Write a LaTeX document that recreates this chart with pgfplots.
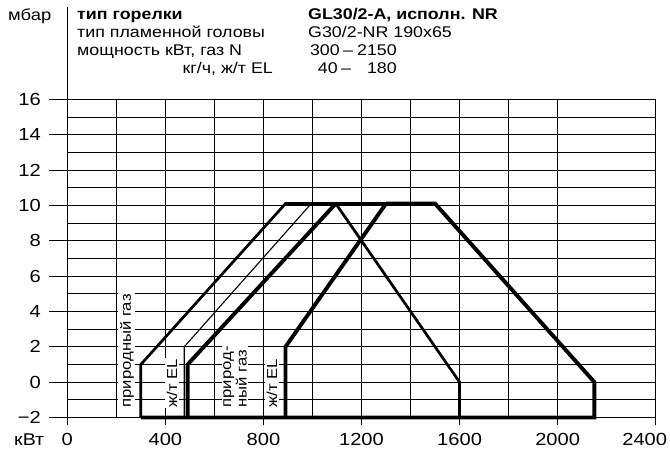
\documentclass[border=0pt]{standalone}
\usepackage{pgfplots}
\pgfplotsset{compat=1.18}
\usepackage{fontspec}
\setmainfont{Liberation Sans}[FakeStretch=1.15]
\begin{document}
\begin{tikzpicture}[x=1pt,y=1pt,
  medium/.style={black,line width=2.7pt,line join=miter},
  heavy/.style={black,line width=3.9pt,line join=miter},
  light/.style={black,line width=1.1pt,line join=miter},
  lbl/.style={rotate=90,anchor=west,fill=white,inner xsep=1pt,inner ysep=1.5pt,font=\fontsize{14.5}{15.5}\selectfont}]
\useasboundingbox (0,0) rectangle (670,458);
% header
\draw[line width=1pt] (67.3,451) -- (67.3,358.7);
\node[anchor=base west,inner sep=0pt,font=\fontsize{16}{19}\selectfont] at (8,437) {мбар};
\begin{scope}[every node/.style={anchor=base west,inner sep=0pt,font=\fontsize{15.5}{18}\selectfont}]
\node at (77,438) {\bfseries тип горелки};
\node at (308,438) {\bfseries GL30/2-A, исполн. NR};
\node at (77,420) {тип пламенной головы};
\node at (308,420) {G30/2-NR 190x65};
\node at (77,402) {мощность кВт, газ N};
\node[anchor=base east] at (273,384) {кг/ч, ж/т EL};
\node[anchor=base east] at (340,402) {300};
\node at (343,402) {–};
\node[anchor=base east] at (397,402) {2150};
\node[anchor=base east] at (338,384) {40};
\node at (341,384) {–};
\node[anchor=base east] at (397,384) {180};
\end{scope}
\node[anchor=base west,inner sep=0pt,font=\fontsize{17}{20}\selectfont] at (14,12) {кВт};
\begin{axis}[
  at={(67.3pt,40.5pt)}, anchor=south west,
  scale only axis, width=588.4pt, height=318.2pt,
  xmin=0, xmax=2400, ymin=-2, ymax=16,
  clip=false,
  axis line style={black,line width=1pt},
  xtick={0,400,800,1200,1600,2000},
  xticklabels={0,400,800,1200,1600,2000},
  extra x ticks={2400},
  extra x tick labels={2400},
  extra x tick style={grid=none, xticklabel style={xshift=-11pt}},
  minor x tick num=1,
  ytick={-2,0,2,4,6,8,10,12,14,16},
  yticklabels={−2,0,2,4,6,8,10,12,14,16},
  minor y tick num=1,
  xtick pos=bottom, ytick pos=left,
  tick align=outside,
  minor tick length=0pt,
  xtick style={black,line width=0.9pt,/pgfplots/major tick length=8pt},
  ytick style={black,line width=0.9pt,/pgfplots/major tick length=18pt},
  grid=both,
  major grid style={black,line width=0.8pt},
  minor grid style={black,line width=0.8pt},
  ticklabel style={font=\fontsize{17.5}{20}\selectfont},
  xticklabel style={inner sep=0pt, yshift=-11pt, anchor=north},
  yticklabel style={inner sep=0pt, xshift=-22pt, anchor=east},
]
\addplot[medium] coordinates {(300,-2) (300,1) (890,10.1) (1500,10.1)};
\addplot[heavy] coordinates {(1300,10.1) (1500,10.1) (2150,0) (2150,-2) (300,-2)};
\addplot[heavy] coordinates {(491,-2) (491,1) (1095,10.1)};
\addplot[medium] coordinates {(1095,10.1) (1600,0) (1600,-2)};
\addplot[heavy] coordinates {(890,-2) (890,2) (1300,10.1)};
\addplot[light] coordinates {(477,-2) (477,2) (995,10.1)};
\node[lbl] at (axis cs:243,-1.5) {природный газ};
\node[lbl] at (axis cs:427,-1.5) {ж/т EL};
\node[lbl,align=left] at (axis cs:684,-1.5) {природ-\\ный газ};
\node[lbl] at (axis cs:835,-1.5) {ж/т EL};
\end{axis}
\end{tikzpicture}
\end{document}
